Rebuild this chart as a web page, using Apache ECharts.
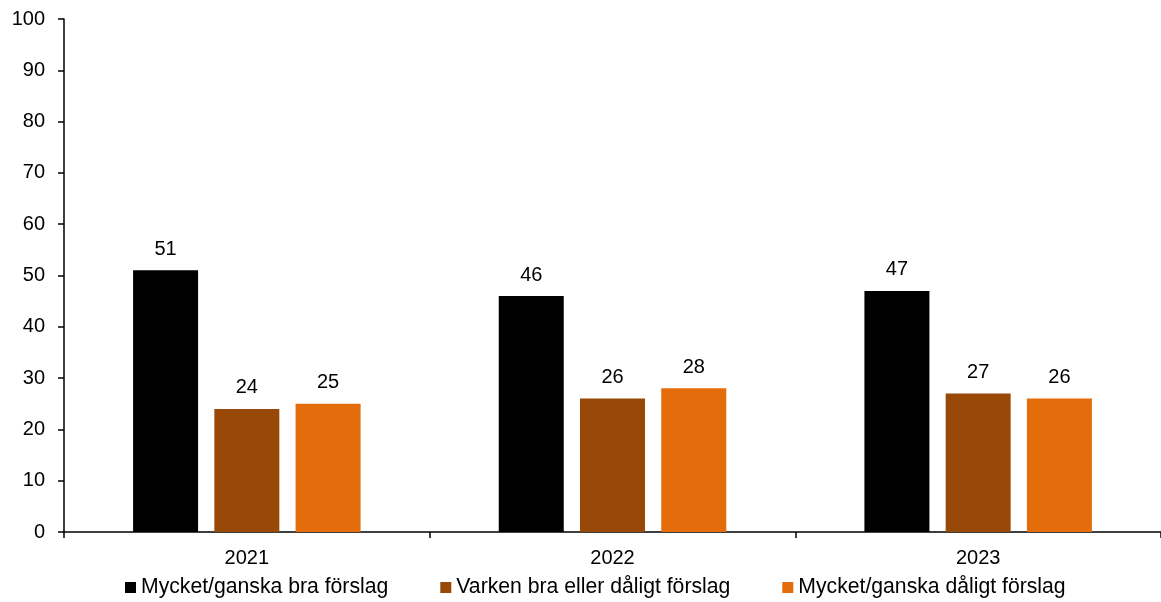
<!DOCTYPE html>
<html><head><meta charset="utf-8">
<script src="https://cdn.jsdelivr.net/npm/echarts@6/dist/echarts.min.js"></script>
<style>html,body{margin:0;padding:0;background:#fff}#c{width:1161px;height:602px}</style>
</head><body><div id="c"></div>
<script>
const categories = ['2021', '2022', '2023'];
const seriesNames = ['Mycket/ganska bra förslag', 'Varken bra eller dåligt förslag', 'Mycket/ganska dåligt förslag'];
const good = [51, 46, 47];
const neutral = [24, 26, 27];
const bad = [25, 28, 26];
const colors = ['#000000', '#984807', '#E46C0A'];
const F = 'Liberation Sans, Arial, sans-serif';
const chart = echarts.init(document.getElementById('c'));
const mk = (name, data, color) => ({
  name, type: 'bar', data, barWidth: 65, barGap: '25%',
  itemStyle: { color },
  label: { show: true, position: 'top', distance: 11, color: '#000', fontSize: 20, fontFamily: F }
});
chart.setOption({
  animation: false,
  textStyle: { fontFamily: F },
  grid: { left: 64, top: 19, right: -5, height: 513 },
  legend: {
    top: 577, left: 125, padding: 0, itemWidth: 11, itemHeight: 11, itemGap: 52,
    icon: 'rect', textStyle: { fontSize: 21.2, color: '#000', fontFamily: F },
    data: seriesNames
  },
  xAxis: {
    type: 'category', data: categories,
    axisLine: { lineStyle: { color: '#000', width: 1.5 } },
    axisTick: { show: true, length: 6, lineStyle: { color: '#000', width: 1.5 } },
    axisLabel: { color: '#000', fontSize: 20, margin: 16, fontFamily: F }
  },
  yAxis: {
    type: 'value', min: 0, max: 100, interval: 10,
    splitLine: { show: false },
    axisLine: { show: true, lineStyle: { color: '#000', width: 1.5 } },
    axisTick: { show: true, length: 6, lineStyle: { color: '#000', width: 1.5 } },
    axisLabel: { color: '#000', fontSize: 20, margin: 19, fontFamily: F }
  },
  series: [mk(seriesNames[0], good, colors[0]), mk(seriesNames[1], neutral, colors[1]), mk(seriesNames[2], bad, colors[2])]
});
</script></body></html>
